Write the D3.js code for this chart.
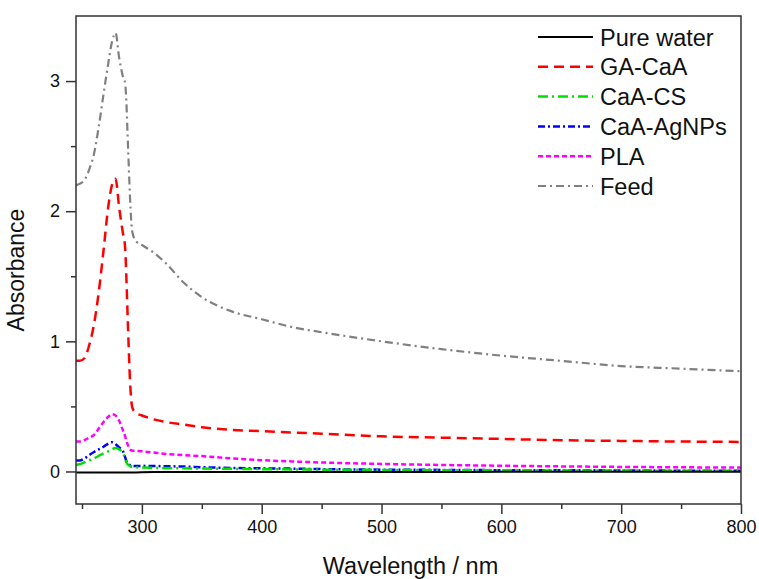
<!DOCTYPE html>
<html>
<head>
<meta charset="utf-8">
<script src="https://cdn.jsdelivr.net/npm/d3@7"></script>
<style>
  body { margin: 0; background: #fff; }
  text { font-family: "Liberation Sans", Arial, sans-serif; fill: #111; }
</style>
</head>
<body>
<svg id="chart" width="759" height="579"></svg>
<script>
// wavelength grid (nm)
var wavelength = [245, 248, 252, 256, 260, 264, 268, 272, 275, 278, 281, 284, 286, 287, 288, 289, 290, 292, 295, 300,
                  310, 320, 335, 350, 375, 400, 425, 450, 500, 550, 600, 650, 700, 750, 800];

var pureWater = [-0.008, -0.008, -0.008, -0.008, -0.008, -0.008, -0.008, -0.008, -0.008, -0.008, -0.008, -0.008, -0.008, -0.008, -0.008, -0.008, -0.008, -0.008, -0.007, -0.006,
                 -0.005, -0.005, -0.005, -0.005, -0.005, -0.004, -0.004, -0.004, -0.004, -0.004, -0.003, -0.003, -0.003, -0.003, -0.003];
var gaCaA = [0.85, 0.85, 0.87, 0.97, 1.13, 1.38, 1.70, 2.04, 2.20, 2.25, 2.03, 1.84, 1.72, 1.50, 1.22, 0.95, 0.71, 0.49, 0.45, 0.43,
             0.40, 0.38, 0.36, 0.34, 0.32, 0.31, 0.30, 0.29, 0.27, 0.26, 0.25, 0.24, 0.235, 0.23, 0.227];
var caaCS = [0.05, 0.055, 0.07, 0.085, 0.10, 0.12, 0.14, 0.155, 0.17, 0.18, 0.17, 0.145, 0.10, 0.07, 0.055, 0.047, 0.042, 0.036, 0.032, 0.03,
             0.028, 0.026, 0.024, 0.022, 0.02, 0.018, 0.016, 0.014, 0.012, 0.01, 0.009, 0.008, 0.007, 0.006, 0.005];
var caaAgNPs = [0.085, 0.085, 0.10, 0.125, 0.15, 0.17, 0.19, 0.215, 0.225, 0.21, 0.185, 0.16, 0.11, 0.08, 0.065, 0.055, 0.05, 0.043, 0.042, 0.043,
                0.042, 0.04, 0.038, 0.033, 0.027, 0.024, 0.022, 0.018, 0.014, 0.012, 0.01, 0.009, 0.008, 0.006, 0.005];
var pla = [0.23, 0.23, 0.24, 0.26, 0.28, 0.33, 0.38, 0.42, 0.44, 0.43, 0.39, 0.32, 0.27, 0.24, 0.21, 0.19, 0.17, 0.16, 0.158, 0.155,
           0.145, 0.135, 0.125, 0.118, 0.10, 0.087, 0.077, 0.069, 0.058, 0.05, 0.044, 0.039, 0.035, 0.032, 0.03];
var feed = [2.20, 2.21, 2.24, 2.32, 2.44, 2.65, 2.90, 3.14, 3.30, 3.37, 3.18, 3.04, 2.98, 2.85, 2.60, 2.36, 2.12, 1.84, 1.77, 1.74,
            1.68, 1.60, 1.45, 1.34, 1.23, 1.17, 1.11, 1.07, 1.00, 0.94, 0.89, 0.85, 0.81, 0.79, 0.77];

var seriesNames = ["Pure water", "GA-CaA", "CaA-CS", "CaA-AgNPs", "PLA", "Feed"];
var xTicks = [300, 400, 500, 600, 700, 800];
var yTicks = [0, 1, 2, 3];

var allSeries = [pureWater, gaCaA, caaCS, caaAgNPs, pla, feed];
var colors = ["#000000", "#ff0000", "#00e000", "#0000ff", "#ff00ff", "#808080"];
var dashes = ["none", "10,6", "10,4,2,4", "7,3,2,3", "5,3", "8,4,2,4"];
var widths = [2, 2.5, 2.5, 2.5, 2.5, 2.2];

var svg = d3.select("#chart"),
    margin = {top: 16, right: 18, bottom: 75, left: 76},
    width = +svg.attr("width") - margin.left - margin.right,
    height = +svg.attr("height") - margin.top - margin.bottom;

var x = d3.scaleLinear().domain([245, 800]).range([0, width]);
var y = d3.scaleLinear().domain([-0.25, 3.5]).range([height, 0]);

var g = svg.append("g")
    .attr("transform", "translate(" + margin.left + "," + margin.top + ")");

var line = d3.line()
    .x(function(d) { return x(d[0]); })
    .y(function(d) { return y(d[1]); })
    .curve(d3.curveMonotoneX);

// curves, feed drawn first so the others sit on top
var order = [5, 1, 4, 3, 2, 0];
order.forEach(function(i) {
  var pts = wavelength.map(function(w, k) { return [w, allSeries[i][k]]; });
  g.append("path")
    .datum(pts)
    .attr("fill", "none")
    .attr("stroke", colors[i])
    .attr("stroke-width", widths[i])
    .attr("stroke-dasharray", dashes[i])
    .attr("d", line);
});

// frame
g.append("rect")
  .attr("width", width).attr("height", height)
  .attr("fill", "none").attr("stroke", "#333").attr("stroke-width", 1.5);

// x axis
var xAxis = g.append("g")
    .attr("transform", "translate(0," + height + ")")
    .call(d3.axisBottom(x).tickValues(xTicks).tickSize(10).tickPadding(6).tickFormat(d3.format("d")));
xAxis.append("g").call(d3.axisBottom(x).tickValues([250, 350, 450, 550, 650, 750]).tickSize(5).tickFormat(""));
xAxis.selectAll(".domain").remove();

// y axis
var yAxis = g.append("g")
    .call(d3.axisLeft(y).tickValues(yTicks).tickSize(10).tickPadding(6).tickFormat(d3.format("d")));
yAxis.append("g").call(d3.axisLeft(y).tickValues([0.5, 1.5, 2.5]).tickSize(5).tickFormat(""));
yAxis.selectAll(".domain").remove();

svg.selectAll(".tick line").attr("stroke", "#333").attr("stroke-width", 1.5);
svg.selectAll(".tick text").style("font-size", "18px").style("font-family", "Liberation Sans, Arial, sans-serif").attr("fill", "#222");

// axis titles
g.append("text")
  .attr("x", width / 2 + 2).attr("y", height + 70)
  .attr("text-anchor", "middle")
  .style("font-size", "23.5px")
  .text("Wavelength / nm");

g.append("text")
  .attr("transform", "translate(-52," + (height / 2 + 10) + ") rotate(-90)")
  .attr("text-anchor", "middle")
  .style("font-size", "23px")
  .text("Absorbance");

// legend
var legend = svg.append("g").attr("transform", "translate(538,37)");
seriesNames.forEach(function(name, i) {
  var row = legend.append("g").attr("transform", "translate(0," + (i * 29.8) + ")");
  row.append("line")
    .attr("x1", 0).attr("x2", 55).attr("y1", 0).attr("y2", 0)
    .attr("stroke", colors[i])
    .attr("stroke-width", widths[i])
    .attr("stroke-dasharray", dashes[i]);
  row.append("text")
    .attr("x", 62).attr("y", 8.5)
    .style("font-size", "23.5px")
    .text(name);
});
</script>
</body>
</html>
